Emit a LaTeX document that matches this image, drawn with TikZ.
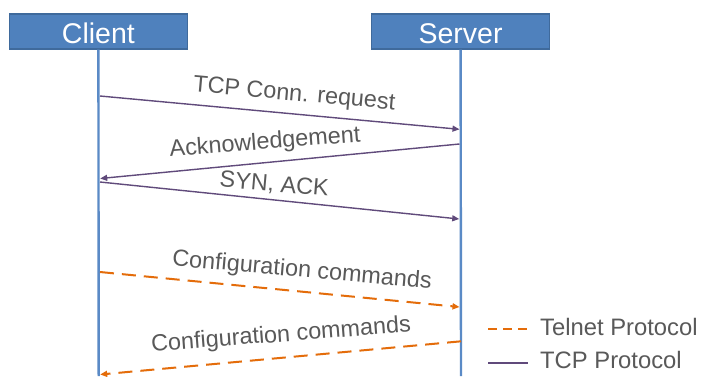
\documentclass[tikz,border=0pt]{standalone}
\usepackage{fontspec}
\setmainfont{Liberation Sans}
\usetikzlibrary{arrows.meta}

\definecolor{boxblue}{HTML}{4F81BD}
\definecolor{boxedge}{HTML}{3F6A9C}
\definecolor{lifeblue}{HTML}{5A8AC6}
\definecolor{tcppurple}{HTML}{604A7B}
\definecolor{telorange}{HTML}{E46C0A}
\definecolor{labelgray}{HTML}{595959}

\begin{document}
\begin{tikzpicture}[x=1pt,y=1pt,
  actor/.style={draw=boxedge, line width=1.2pt, fill=boxblue, text=white,
    font=\fontsize{28.5}{30}\selectfont, minimum width=178pt, minimum height=35pt,
    inner sep=0pt, text height=23pt, text depth=0pt},
  life/.style={draw=lifeblue, line width=2.4pt},
  tcp/.style={draw=tcppurple, line width=1.4pt, -{Triangle[length=7pt,width=6pt]}},
  telnet/.style={draw=telorange, line width=2pt, dash pattern=on 14pt off 8pt,
    -{Triangle[length=7pt,width=6pt]}},
  lbl/.style={text=labelgray, font=\fontsize{23.4}{26}\selectfont, inner sep=0pt, anchor=base west},
  keylbl/.style={lbl, font=\fontsize{23.8}{26}\selectfont},
  keytel/.style={draw=telorange, line width=2pt, dash pattern=on 9pt off 6pt},
  keytcp/.style={draw=tcppurple, line width=1.6pt}
]
\useasboundingbox (0,0) rectangle (701,-376);
\fill[white] (0,0) rectangle (701,-376);

% participants and lifelines
\node[actor] (client) at (98.4,-31.5) {Client};
\node[actor] (server) at (460.6,-31.5) {Server};
\coordinate (clientend) at (98.7,-376);
\coordinate (serverend) at (461,-376);
\draw[life] (client.south) -- (clientend);
\draw[life] (server.south) -- (serverend);

% message end points on the lifelines
\coordinate (c1) at (100,-96);    \coordinate (s1) at (459.5,-129.3);
\coordinate (s2) at (459.5,-144); \coordinate (c2) at (100.2,-178.5);
\coordinate (c3) at (100,-182);   \coordinate (s3) at (459.2,-219);
\coordinate (c4) at (100,-272);   \coordinate (s4) at (459.5,-307);
\coordinate (s5) at (461,-341.3); \coordinate (c5) at (100.2,-374.5);

% TCP handshake
\draw[tcp] (c1) -- (s1);
\draw[tcp] (s2) -- (c2);
\draw[tcp] (c3) -- (s3);
\node[lbl, rotate=-5.1] (l1) at (192.7,-91.7) {TCP Conn. request};
\node[lbl, rotate=4.5]  (l2) at (170,-156.7) {Acknowledgement};
\node[lbl, rotate=-5.0] (l3) at (219,-186.7) {SYN, ACK};

% Telnet exchange
\draw[telnet] (c4) -- (s4);
\draw[telnet] (s5) -- (c5);
\node[lbl, rotate=-5.1] (l4) at (171.7,-265.5) {Configuration commands};
\node[lbl, rotate=4.4]  (l5) at (151.7,-351.7) {Configuration commands};

% key
\coordinate (k1a) at (488,-329); \coordinate (k1b) at (528,-329);
\coordinate (k2a) at (488,-363); \coordinate (k2b) at (528,-363);
\draw[keytel] (k1a) -- (k1b);
\draw[keytcp] (k2a) -- (k2b);
\node[keylbl] (kt1) at (540,-335) {Telnet Protocol};
\node[keylbl] (kt2) at (540,-368) {TCP Protocol};
\end{tikzpicture}
\end{document}
